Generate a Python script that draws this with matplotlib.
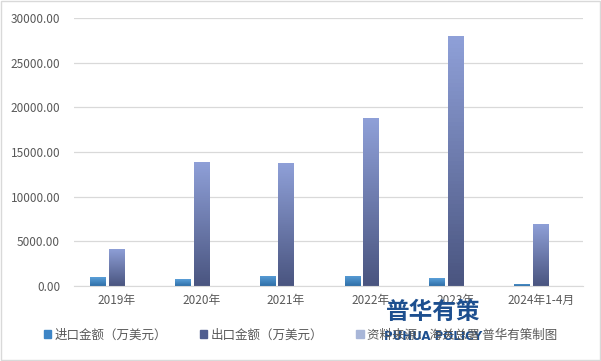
import matplotlib.pyplot as plt
import matplotlib.colors as mcolors
from matplotlib.patches import Rectangle
import numpy as np

plt.rcParams['font.family'] = ['Noto Sans CJK SC', 'DejaVu Sans']

years = ['2019年', '2020年', '2021年', '2022年', '2023年', '2024年1-4月']
imports = [1000, 780, 1120, 1120, 860, 230]
exports = [4150, 13900, 13800, 18830, 27960, 6950]
source = [0, 0, 0, 0, 0, 0]
labels = ['进口金额（万美元）', '出口金额（万美元）', '资料来源：海关总署 普华有策制图']

fig = plt.figure(figsize=(6.01, 3.61), dpi=100)
ax = fig.add_axes([74/601, 1-286/361, (583-74)/601, (286-18)/361])

x = np.arange(len(years))
w = 0.22
b1 = ax.bar(x - w, imports, width=w * 0.82, color='none')
b2 = ax.bar(x, exports, width=w * 0.82, color='none')
b3 = ax.bar(x + w, source, width=w * 0.82, color='none')

def gradient_fill(bars, top, bottom):
    cmap = mcolors.LinearSegmentedColormap.from_list('g', [bottom, top])
    grad = np.linspace(0, 1, 64).reshape(-1, 1)
    for p in bars:
        h = p.get_height()
        if h <= 0:
            continue
        x0 = p.get_x()
        im = ax.imshow(grad, cmap=cmap, aspect='auto', origin='lower',
                       extent=[x0, x0 + p.get_width(), 0, h], zorder=2)
        im.set_clip_path(p)

gradient_fill(b1, '#5a9fd8', '#2f6fa8')
gradient_fill(b2, '#8fa0d8', '#4a5580')

ax.set_xlim(-0.5, len(years) - 0.5)
ax.set_ylim(0, 30000)
ax.set_yticks(np.arange(0, 30001, 5000))
ax.set_yticklabels(['%.2f' % v for v in np.arange(0, 30001, 5000)])
ax.set_xticks(x)
ax.set_xticklabels(years)
ax.yaxis.grid(True, color='#d9d9d9', linewidth=0.9)
ax.set_axisbelow(True)
for s in ['top', 'right', 'left']:
    ax.spines[s].set_visible(False)
ax.spines['bottom'].set_color('#d9d9d9')
ax.tick_params(axis='both', length=0, labelsize=8.5, colors='#595959')
ax.tick_params(axis='y', pad=10)
ax.tick_params(axis='x', pad=6)

handles = [Rectangle((0, 0), 1, 1, color=c) for c in ['#3d85c6', '#4f5d8f', '#a8b6d8']]
leg = fig.legend(handles, labels, loc='center', bbox_to_anchor=(0.5, 1 - 335/361),
                 ncol=3, frameon=False, fontsize=9, handlelength=0.6, handleheight=0.6,
                 handletextpad=0.3, columnspacing=2.6)
for t in leg.get_texts():
    t.set_color('#595959')

# watermark
fig.text(433/601, 1 - 312/361, '普华有策', fontsize=17, fontweight='bold',
         color='#1d4f8f', ha='center', va='center')
fig.text(433/601, 1 - 336/361, 'PUHUA POLICY', fontsize=8.5, fontweight='bold',
         color='#1d4f8f', ha='center', va='center', family='DejaVu Sans')

fig.patches.append(Rectangle((0.001, 0.002), 0.997, 0.995, transform=fig.transFigure,
                             fill=False, edgecolor='#d9d9d9', linewidth=1))

fig.savefig('out.png', dpi=100)
